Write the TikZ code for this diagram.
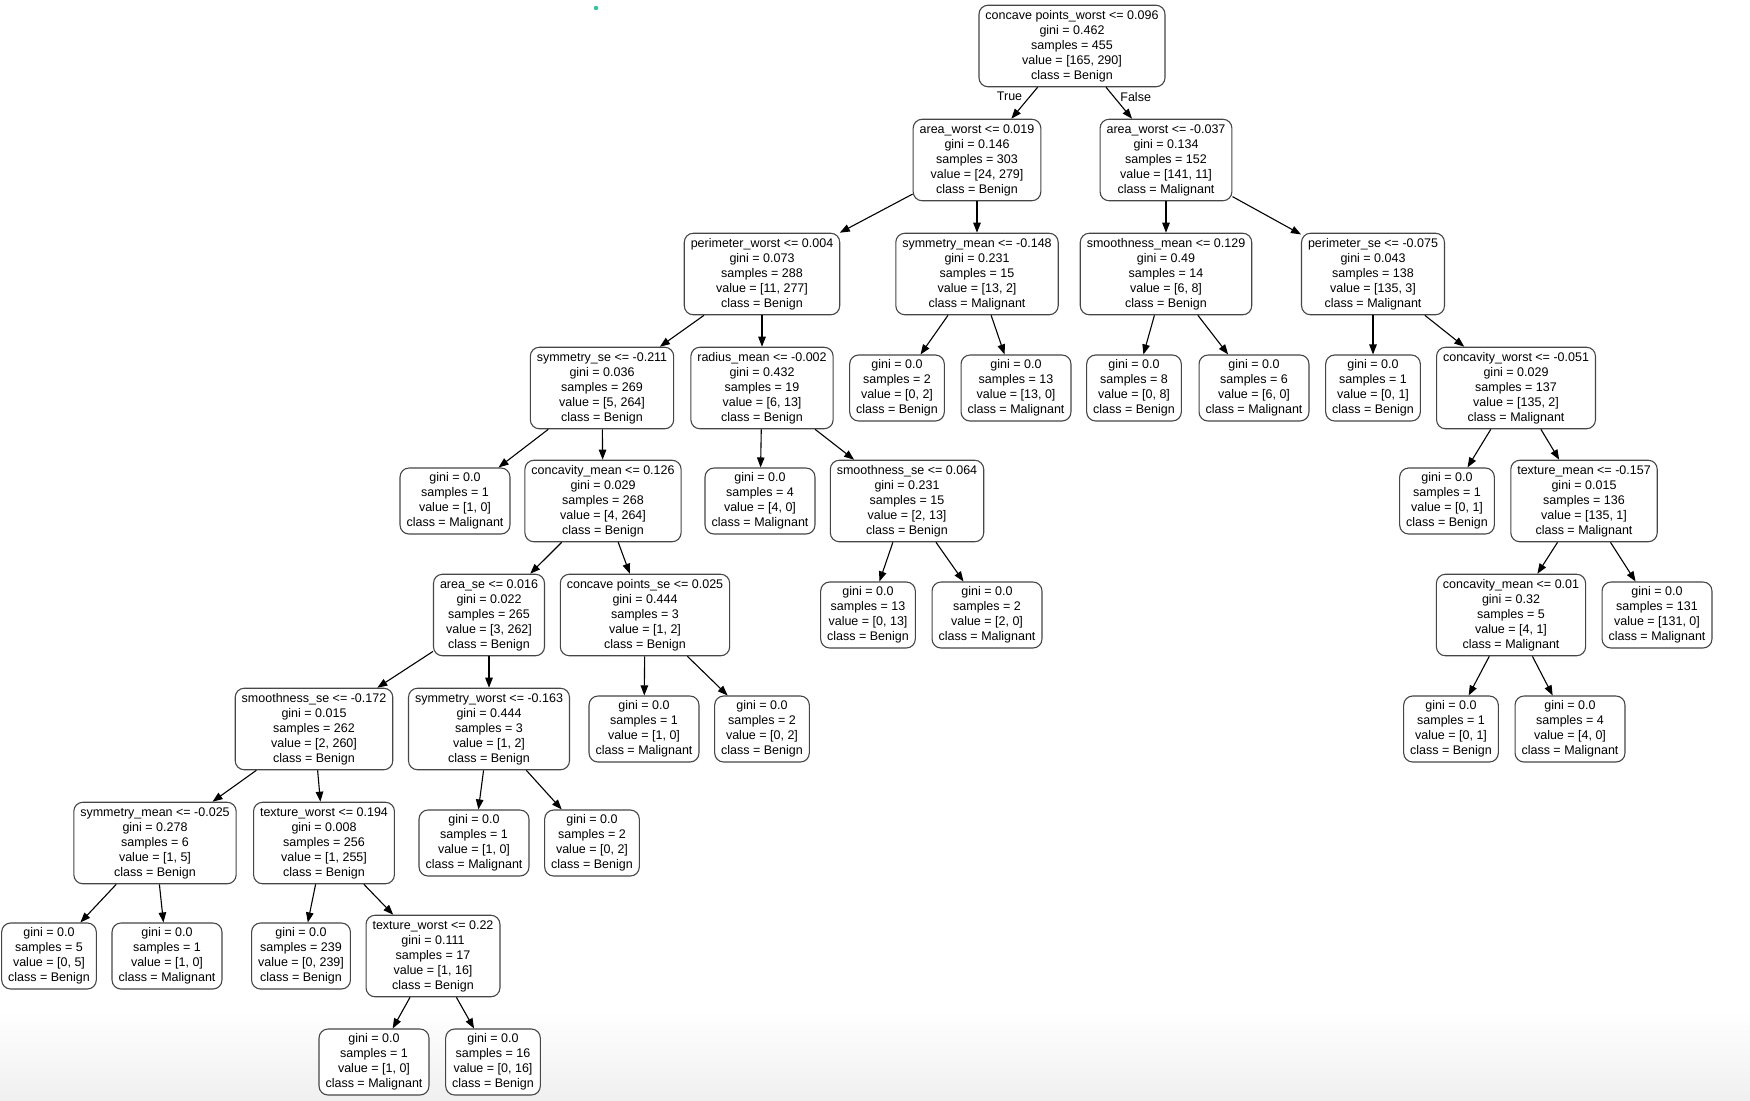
\documentclass[tikz,border=0pt]{standalone}
\usepackage{fontspec}
\setmainfont{Liberation Sans}
\usepackage{tikz}
\usetikzlibrary{arrows.meta,positioning,calc}
\definecolor{boxline}{RGB}{70,70,70}
\definecolor{dotgreen}{RGB}{40,200,160}
\newcommand{\treefont}{\fontsize{12.5}{15}\selectfont}
\tikzset{
  split/.style={rectangle,rounded corners=9pt,draw=boxline,line width=1.1pt,
                fill=white,align=center,inner xsep=6.5pt,minimum height=81.5pt,
                font=\treefont},
  leaf/.style={split,minimum height=66pt},
  ed/.style={-{Triangle[length=10pt,width=7.5pt]},line width=1.1pt,color=black},
  branch/.style={font=\treefont,inner sep=0pt},
}

\begin{document}
\begin{tikzpicture}[x=1pt,y=-1pt]
        % ── Canvas
        \fill[white] (0,0) rectangle (1750,1100);
        \shade[top color=white,bottom color=black!6,draw=none] (0,1010) rectangle (1750,1100);
        \useasboundingbox (0,0) rectangle (1750,1100);
        \fill[dotgreen] (596,8) circle (2.2);

        % ── Level 0
        \node[split] (n0) at (1072,46) {concave points\_worst <= 0.096\\gini = 0.462\\samples = 455\\value = [165, 290]\\class = Benign};

        % ── Level 1
        \node[split] (n1) at (977,160) {area\_worst <= 0.019\\gini = 0.146\\samples = 303\\value = [24, 279]\\class = Benign};
        \node[split] (n2) at (1166,160) {area\_worst <= -0.037\\gini = 0.134\\samples = 152\\value = [141, 11]\\class = Malignant};

        % ── Level 2
        \node[split] (n3) at (762,274) {perimeter\_worst <= 0.004\\gini = 0.073\\samples = 288\\value = [11, 277]\\class = Benign};
        \node[split] (n4) at (977,274) {symmetry\_mean <= -0.148\\gini = 0.231\\samples = 15\\value = [13, 2]\\class = Malignant};
        \node[split] (n5) at (1166,274) {smoothness\_mean <= 0.129\\gini = 0.49\\samples = 14\\value = [6, 8]\\class = Benign};
        \node[split] (n6) at (1373,274) {perimeter\_se <= -0.075\\gini = 0.043\\samples = 138\\value = [135, 3]\\class = Malignant};

        % ── Level 3
        \node[split] (n7) at (602,388) {symmetry\_se <= -0.211\\gini = 0.036\\samples = 269\\value = [5, 264]\\class = Benign};
        \node[split] (n8) at (762,388) {radius\_mean <= -0.002\\gini = 0.432\\samples = 19\\value = [6, 13]\\class = Benign};
        \node[leaf] (n4a) at (897,388) {gini = 0.0\\samples = 2\\value = [0, 2]\\class = Benign};
        \node[leaf] (n4b) at (1016,388) {gini = 0.0\\samples = 13\\value = [13, 0]\\class = Malignant};
        \node[leaf] (n5a) at (1134,388) {gini = 0.0\\samples = 8\\value = [0, 8]\\class = Benign};
        \node[leaf] (n5b) at (1254,388) {gini = 0.0\\samples = 6\\value = [6, 0]\\class = Malignant};
        \node[leaf] (n6a) at (1373,388) {gini = 0.0\\samples = 1\\value = [0, 1]\\class = Benign};
        \node[split] (n9) at (1516,388) {concavity\_worst <= -0.051\\gini = 0.029\\samples = 137\\value = [135, 2]\\class = Malignant};

        % ── Level 4
        \node[leaf] (n7a) at (455,501) {gini = 0.0\\samples = 1\\value = [1, 0]\\class = Malignant};
        \node[split] (n10) at (603,501) {concavity\_mean <= 0.126\\gini = 0.029\\samples = 268\\value = [4, 264]\\class = Benign};
        \node[leaf] (n8a) at (760,501) {gini = 0.0\\samples = 4\\value = [4, 0]\\class = Malignant};
        \node[split] (n11) at (907,501) {smoothness\_se <= 0.064\\gini = 0.231\\samples = 15\\value = [2, 13]\\class = Benign};
        \node[leaf] (n9a) at (1447,501) {gini = 0.0\\samples = 1\\value = [0, 1]\\class = Benign};
        \node[split] (n12) at (1584,501) {texture\_mean <= -0.157\\gini = 0.015\\samples = 136\\value = [135, 1]\\class = Malignant};

        % ── Level 5
        \node[split] (n13) at (489,615) {area\_se <= 0.016\\gini = 0.022\\samples = 265\\value = [3, 262]\\class = Benign};
        \node[split] (n14) at (645,615) {concave points\_se <= 0.025\\gini = 0.444\\samples = 3\\value = [1, 2]\\class = Benign};
        \node[leaf] (n11a) at (868,615) {gini = 0.0\\samples = 13\\value = [0, 13]\\class = Benign};
        \node[leaf] (n11b) at (987,615) {gini = 0.0\\samples = 2\\value = [2, 0]\\class = Malignant};
        \node[split] (n15) at (1511,615) {concavity\_mean <= 0.01\\gini = 0.32\\samples = 5\\value = [4, 1]\\class = Malignant};
        \node[leaf] (n12b) at (1657,615) {gini = 0.0\\samples = 131\\value = [131, 0]\\class = Malignant};

        % ── Level 6
        \node[split] (n16) at (314,729) {smoothness\_se <= -0.172\\gini = 0.015\\samples = 262\\value = [2, 260]\\class = Benign};
        \node[split] (n17) at (489,729) {symmetry\_worst <= -0.163\\gini = 0.444\\samples = 3\\value = [1, 2]\\class = Benign};
        \node[leaf] (n14a) at (644,729) {gini = 0.0\\samples = 1\\value = [1, 0]\\class = Malignant};
        \node[leaf] (n14b) at (762,729) {gini = 0.0\\samples = 2\\value = [0, 2]\\class = Benign};
        \node[leaf] (n15a) at (1451,729) {gini = 0.0\\samples = 1\\value = [0, 1]\\class = Benign};
        \node[leaf] (n15b) at (1570,729) {gini = 0.0\\samples = 4\\value = [4, 0]\\class = Malignant};

        % ── Level 7
        \node[split] (n18) at (155,843) {symmetry\_mean <= -0.025\\gini = 0.278\\samples = 6\\value = [1, 5]\\class = Benign};
        \node[split] (n19) at (324,843) {texture\_worst <= 0.194\\gini = 0.008\\samples = 256\\value = [1, 255]\\class = Benign};
        \node[leaf] (n17a) at (474,843) {gini = 0.0\\samples = 1\\value = [1, 0]\\class = Malignant};
        \node[leaf] (n17b) at (592,843) {gini = 0.0\\samples = 2\\value = [0, 2]\\class = Benign};

        % ── Level 8
        \node[leaf] (n18a) at (49,956) {gini = 0.0\\samples = 5\\value = [0, 5]\\class = Benign};
        \node[leaf] (n18b) at (167,956) {gini = 0.0\\samples = 1\\value = [1, 0]\\class = Malignant};
        \node[leaf] (n19a) at (301,956) {gini = 0.0\\samples = 239\\value = [0, 239]\\class = Benign};
        \node[split] (n20) at (433,956) {texture\_worst <= 0.22\\gini = 0.111\\samples = 17\\value = [1, 16]\\class = Benign};

        % ── Level 9
        \node[leaf] (n20a) at (374,1062) {gini = 0.0\\samples = 1\\value = [1, 0]\\class = Malignant};
        \node[leaf] (n20b) at (493,1062) {gini = 0.0\\samples = 16\\value = [0, 16]\\class = Benign};

        % ── Arrows
        \draw[ed] (n0) -- node[branch,pos=0.3,anchor=east,xshift=-7pt] {True} (n1);
        \draw[ed] (n0) -- node[branch,pos=0.3,anchor=west,xshift=6pt] {False} (n2);
        \draw[ed] (n1) -- (n3); \draw[ed] (n1) -- (n4);
        \draw[ed] (n2) -- (n5); \draw[ed] (n2) -- (n6);
        \draw[ed] (n3) -- (n7); \draw[ed] (n3) -- (n8);
        \draw[ed] (n4) -- (n4a); \draw[ed] (n4) -- (n4b);
        \draw[ed] (n5) -- (n5a); \draw[ed] (n5) -- (n5b);
        \draw[ed] (n6) -- (n6a); \draw[ed] (n6) -- (n9);
        \draw[ed] (n7) -- (n7a); \draw[ed] (n7) -- (n10);
        \draw[ed] (n8) -- (n8a); \draw[ed] (n8) -- (n11);
        \draw[ed] (n9) -- (n9a); \draw[ed] (n9) -- (n12);
        \draw[ed] (n10) -- (n13); \draw[ed] (n10) -- (n14);
        \draw[ed] (n11) -- (n11a); \draw[ed] (n11) -- (n11b);
        \draw[ed] (n12) -- (n15); \draw[ed] (n12) -- (n12b);
        \draw[ed] (n13) -- (n16); \draw[ed] (n13) -- (n17);
        \draw[ed] (n14) -- (n14a); \draw[ed] (n14) -- (n14b);
        \draw[ed] (n15) -- (n15a); \draw[ed] (n15) -- (n15b);
        \draw[ed] (n16) -- (n18); \draw[ed] (n16) -- (n19);
        \draw[ed] (n17) -- (n17a); \draw[ed] (n17) -- (n17b);
        \draw[ed] (n18) -- (n18a); \draw[ed] (n18) -- (n18b);
        \draw[ed] (n19) -- (n19a); \draw[ed] (n19) -- (n20);
        \draw[ed] (n20) -- (n20a); \draw[ed] (n20) -- (n20b);
\end{tikzpicture}
\end{document}
